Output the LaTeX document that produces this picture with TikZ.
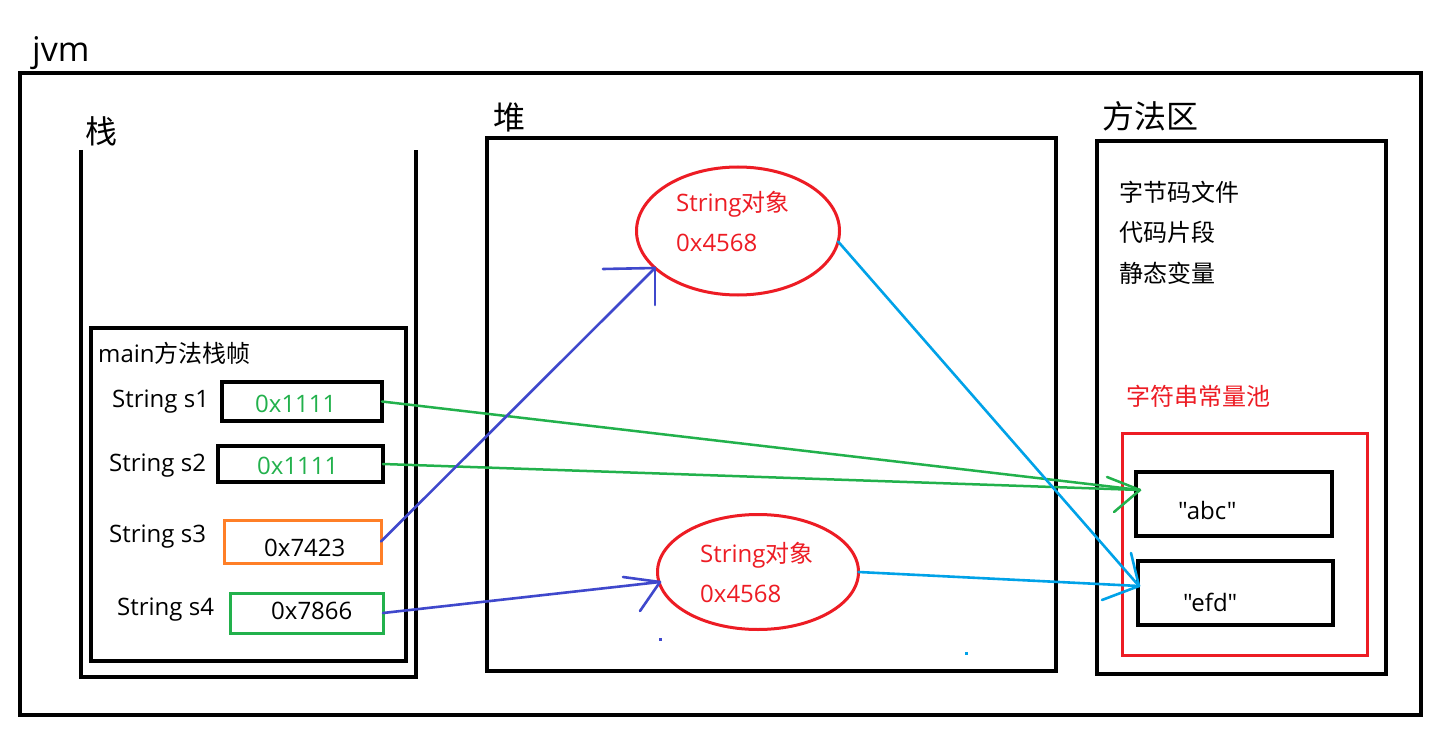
\documentclass[tikz,border=0pt]{standalone}
\usepackage{fontspec}
\setmainfont{Open Sans}[Ligatures=TeXOff]
\newfontfamily\cjk{Noto Sans CJK SC}
\usetikzlibrary{shapes.geometric}
\definecolor{pgreen}{HTML}{22B14C}
\definecolor{porange}{HTML}{FF7F27}
\definecolor{pred}{HTML}{ED1C24}
\definecolor{pblue}{HTML}{3F48CC}
\definecolor{pcyan}{HTML}{00A2E8}
\newcommand{\dq}{\symbol{34}}
\tikzset{
  blk/.style={draw=black, line width=3.4pt},
  box/.style={rectangle, draw=black, line width=3.4pt, anchor=north west, inner sep=0pt, outer sep=0pt},
  cbox/.style={rectangle, line width=3pt, anchor=north west, inner sep=0pt, outer sep=0pt},
  txt/.style={inner sep=0pt, anchor=base west, font=\fontsize{24}{28}\selectfont},
  ctxt/.style={inner sep=0pt, anchor=west, font=\fontsize{24}{28}\selectfont\cjk},
  head/.style={inner sep=0pt, anchor=west, font=\fontsize{32}{36}\selectfont\cjk},
  obj/.style={ellipse, draw=pred, line width=3pt, inner sep=0pt, outer sep=0pt},
  garrow/.style={draw=pgreen, line width=2.5pt, line cap=round},
  barrow/.style={draw=pblue, line width=2.6pt, line cap=round},
  carrow/.style={draw=pcyan, line width=2.6pt, line cap=round}
}
\begin{document}
\begin{tikzpicture}[x=1pt,y=-1pt]
\useasboundingbox (0,0) rectangle (1442,751);
\fill[white] (0,0) rectangle (1442,751);

% jvm outer
\node[box, minimum width=1401, minimum height=642] (jvm) at (20,73) {};
\node[txt, font=\fontsize{34}{38}\selectfont] (jvmlab) at (32,62) {jvm};

% stack
\draw[blk] (81,150) -- (81,677) -- (416,677) -- (416,150);
\node[head] (stacklab) at (85,131) {栈};
\node[box, minimum width=315, minimum height=333] (frame) at (91,328) {};
\node[txt] (framelab) at (98,362) {main{\cjk 方法栈帧}};

\node[box, minimum width=160, minimum height=39] (b1) at (222,382) {};
\node[box, minimum width=165, minimum height=36] (b2) at (218,446) {};
\node[cbox, draw=porange, minimum width=157, minimum height=43] (b3) at (224,520) {};
\node[cbox, draw=pgreen, minimum width=153, minimum height=40] (b4) at (230,593) {};

\node[txt] (l1) at (112,407) {String s1};
\node[txt] (l2) at (109,471) {String s2};
\node[txt] (l3) at (109,542) {String s3};
\node[txt] (l4) at (117,615) {String s4};

\node[txt, text=pgreen] (v1) at (255,412) {0x1111};
\node[txt, text=pgreen] (v2) at (257,474) {0x1111};
\node[txt] (v3) at (264,556) {0x7423};
\node[txt] (v4) at (271,619) {0x7866};

% heap
\node[box, minimum width=569, minimum height=533] (heap) at (487,138) {};
\node[head] (heaplab) at (493,117) {堆};
\node[obj, minimum width=203, minimum height=128] (e1) at (738,231) {};
\node[obj, minimum width=201, minimum height=115] (e2) at (758,572) {};
\node[txt, text=pred] (e1a) at (676,212) {String{\cjk 对象}};
\node[txt, text=pred] (e1b) at (676,252) {0x4568};
\node[txt, text=pred] (e2a) at (700,562) {String{\cjk 对象}};
\node[txt, text=pred] (e2b) at (700,602) {0x4568};

% method area
\node[box, minimum width=289, minimum height=533] (meth) at (1097,141) {};
\node[head] (methlab) at (1102,116) {方法区};
\node[ctxt] (m1) at (1119,192) {字节码文件};
\node[ctxt] (m2) at (1119,232) {代码片段};
\node[ctxt] (m3) at (1119,273) {静态变量};
\node[ctxt, text=pred] (poollab) at (1126,396) {字符串常量池};
\node[cbox, draw=pred, minimum width=245, minimum height=222] (pool) at (1122,433) {};
\node[box, minimum width=196, minimum height=64] (abc) at (1136,472) {};
\node[box, minimum width=195, minimum height=64] (efd) at (1138,561) {};
\node[txt] (abct) at (1178,519) {\dq abc\dq};
\node[txt] (efdt) at (1183,611) {\dq efd\dq};

% arrows green
\coordinate (tA) at (1140,490);
\draw[garrow] (b1.east) -- (tA);
\draw[garrow] (b2.east) -- (tA);
\draw[garrow] (tA) -- ++(-33,-13);
\draw[garrow] (tA) -- ++(-26,22);

% blue 1
\coordinate (tB) at (655,268);
\draw[barrow] (b3.east) -- (tB);
\draw[barrow] (tB) -- ++(-52,1);
\draw[barrow] (tB) -- ++(0,37);

% blue 2
\coordinate (tC) at (660,582);
\draw[barrow] (b4.east) -- (tC);
\draw[barrow] (tC) -- ++(-37,-5);
\draw[barrow] (tC) -- ++(-20,29);

% cyan
\coordinate (tD) at (1139,586);
\draw[carrow] (e1.-6) -- (tD);
\draw[carrow] (e2.east) -- (tD);
\draw[carrow] (tD) -- ++(-8,-33);
\draw[carrow] (tD) -- ++(-37,14);

% stray dots
\fill[pblue] (659,638) rectangle ++(3,3);
\fill[pcyan] (965,652) rectangle ++(3,3);
\end{tikzpicture}
\end{document}
